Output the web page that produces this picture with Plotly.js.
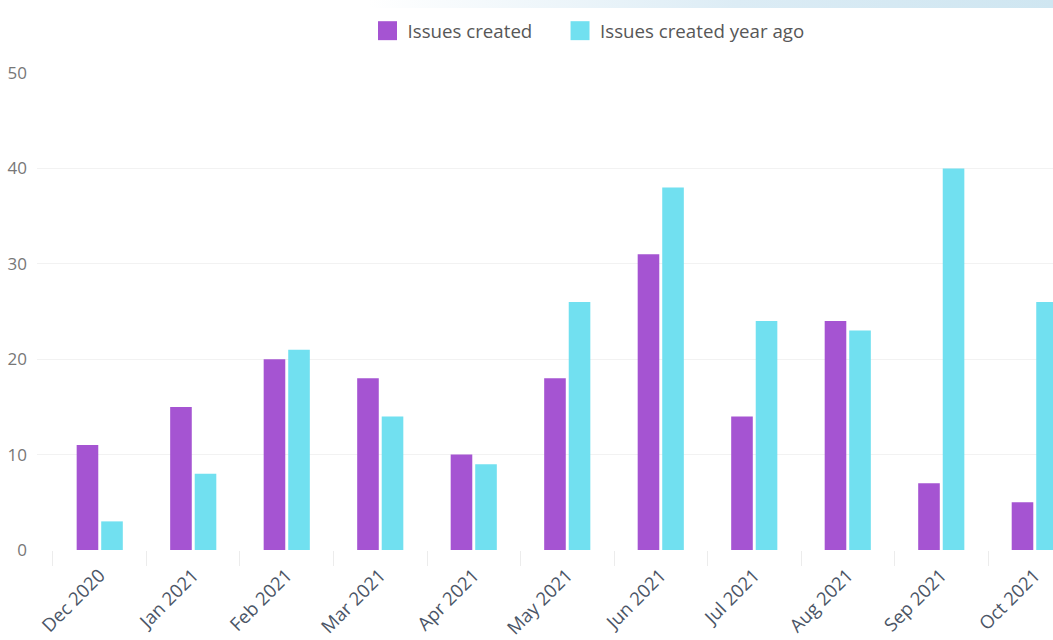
<!DOCTYPE html>
<html>
<head>
<meta charset="utf-8">
<script src="https://cdn.plot.ly/plotly-3.0.1.min.js"></script>
<style>
  html, body { margin: 0; padding: 0; background: #ffffff; }
  #band { position: absolute; left: 0; top: 0; width: 1053px; height: 8px;
          background: linear-gradient(to right, rgba(255,255,255,0) 0%, rgba(255,255,255,0) 35%, #dcecf5 70%, #cfe6f1 100%); }
  #chart { position: absolute; left: 0; top: 0; width: 1053px; height: 640px; }
</style>
</head>
<body>
<div id="band"></div>
<div id="chart"></div>
<script>
const months = ["Dec 2020", "Jan 2021", "Feb 2021", "Mar 2021", "Apr 2021", "May 2021",
                "Jun 2021", "Jul 2021", "Aug 2021", "Sep 2021", "Oct 2021"];
const issuesCreated = [11, 15, 20, 18, 10, 18, 31, 14, 24, 7, 5];
const issuesCreatedYearAgo = [3, 8, 21, 14, 9, 26, 38, 24, 23, 40, 26];
const yTicks = [0, 10, 20, 30, 40, 50];

const fontFamily = '"Open Sans", "Noto Sans", sans-serif';

const traces = [
  { type: 'bar', name: 'Issues created', x: months, y: issuesCreated, legend: 'legend',
    marker: { color: '#a554d2' }, hoverinfo: 'x+y' },
  { type: 'bar', name: 'Issues created year ago', x: months, y: issuesCreatedYearAgo, legend: 'legend2',
    marker: { color: '#71e0f0' }, hoverinfo: 'x+y' }
];

const legendFont = { size: 18.7, color: '#575757', family: fontFamily };

const layout = {
  width: 1053, height: 640,
  margin: { l: 37, r: 0, t: 73, b: 90, pad: 0 },
  paper_bgcolor: 'rgba(0,0,0,0)',
  plot_bgcolor: 'rgba(0,0,0,0)',
  font: { family: fontFamily, color: '#555' },
  barmode: 'group',
  bargap: 0.475,
  bargroupgap: 0.12,
  showlegend: true,
  legend: { orientation: 'h', x: 0.3253, xanchor: 'left', y: 1.088, yanchor: 'middle',
            font: legendFont, bgcolor: 'rgba(0,0,0,0)', itemclick: false },
  legend2: { orientation: 'h', x: 0.5148, xanchor: 'left', y: 1.088, yanchor: 'middle',
            font: legendFont, bgcolor: 'rgba(0,0,0,0)', itemclick: false },
  xaxis: {
    type: 'category',
    range: [-0.671, 10.195],
    tickangle: -45,
    tickson: 'boundaries',
    ticks: 'outside', ticklen: 15, tickcolor: '#ececec', tickwidth: 1,
    ticklabelstandoff: 10,
    showgrid: false, zeroline: false, showline: false,
    tickfont: { size: 18.5, color: '#4b5566', family: fontFamily }
  },
  yaxis: {
    range: [0, 50],
    tickvals: yTicks,
    showgrid: true, gridcolor: '#f2f2f2', gridwidth: 1,
    zeroline: false, showline: false, ticks: '',
    ticklabelstandoff: 9,
    tickfont: { size: 17, color: '#777777', family: fontFamily }
  }
};

const gd = document.getElementById('chart');
Plotly.newPlot(gd, traces, layout, { displayModeBar: false, staticPlot: true }).then(function () {
  // enlarge the legend swatches to match the reference's larger squares
  gd.querySelectorAll('.scrollbox').forEach(function (s) { s.removeAttribute('clip-path'); });
  gd.querySelectorAll('.legendpoints path').forEach(function (p) {
    const t = p.getAttribute('transform') || '';
    p.setAttribute('transform', (t + ' scale(1.58)').trim());
  });
});
</script>
</body>
</html>
